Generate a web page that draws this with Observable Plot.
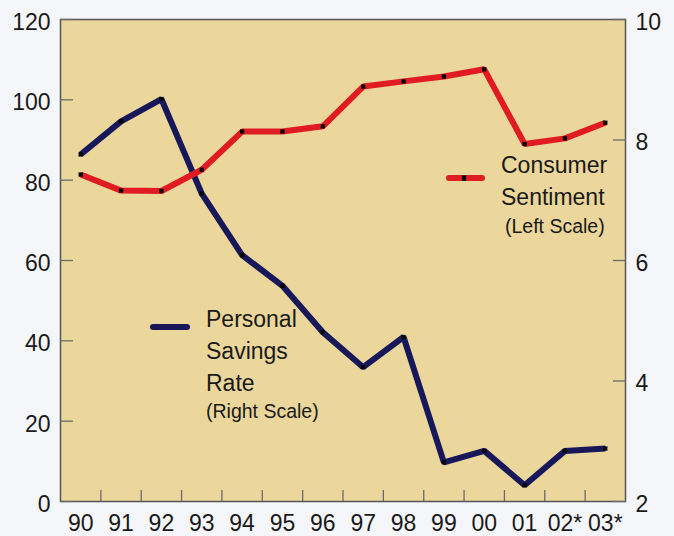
<!DOCTYPE html>
<html><head><meta charset="utf-8">
<script src="https://cdn.jsdelivr.net/npm/d3@7"></script>
<script src="https://cdn.jsdelivr.net/npm/@observablehq/plot@0.6"></script>
<style>
body{margin:0;background:#f5f6f9;}
#wrap{position:relative;width:674px;height:536px;font-family:"Liberation Sans",Arial,sans-serif;color:#1a1a1a;}
.leg{position:absolute;white-space:nowrap;}
.big{font-size:23px;line-height:32px;}
.small{font-size:19.5px;line-height:26px;}
.sw{position:absolute;height:6px;border-radius:3px;}
</style></head><body><div id="wrap"></div>
<script>
const years = ["90","91","92","93","94","95","96","97","98","99","00","01","02*","03*"];
const sentiment = [81.4, 77.4, 77.3, 82.6, 92.1, 92.1, 93.4, 103.3, 104.6, 105.8, 107.6, 89.0, 90.4, 94.3];
const savings = [7.76, 8.31, 8.68, 7.11, 6.09, 5.58, 4.81, 4.23, 4.73, 2.65, 2.84, 2.27, 2.84, 2.88];
const leftTicks = [0, 20, 40, 60, 80, 100, 120];
const rightTicks = [2, 4, 6, 8, 10];

// map right scale (2..10) onto left scale (0..120)
const toLeft = v => (v - 2) * 15;
const fromLeft = v => v / 15 + 2;

const rows = years.map((y, i) => ({i, year: y, sentiment: sentiment[i], savings: toLeft(savings[i])}));
const centers = years.map((_, i) => i);
const bounds = years.slice(1).map((_, i) => i + 0.5);

const BLUE = "#17175a", RED = "#e11b22", TICK = "#6a6a6a";

const plot = Plot.plot({
  width: 674, height: 536,
  marginLeft: 60, marginRight: 49, marginTop: 19, marginBottom: 35,
  style: {background: "transparent", fontFamily: "Liberation Sans, Arial, sans-serif", fontSize: "23px", color: "#1a1a1a", overflow: "visible"},
  x: {type: "linear", domain: [-0.5, years.length - 0.5], label: null},
  y: {domain: [0, 120], label: null},
  marks: [
    Plot.frame({fill: "#ebd69b", stroke: "none"}),
    Plot.line(rows, {x: "i", y: "savings", stroke: BLUE, strokeWidth: 6, strokeLinejoin: "miter", strokeLinecap: "butt"}),
    Plot.dot(rows, {x: "i", y: "savings", symbol: "square", r: 2.4, fill: "#000"}),
    Plot.line(rows, {x: "i", y: "sentiment", stroke: RED, strokeWidth: 6, strokeLinejoin: "miter", strokeLinecap: "butt"}),
    Plot.dot(rows, {x: "i", y: "sentiment", symbol: "square", r: 2.4, fill: "#000"}),
    Plot.frame({stroke: "#555", strokeWidth: 1.5}),
    // left axis
    Plot.axisY(leftTicks, {anchor: "left", tickSize: -13, tickFormat: () => "", stroke: TICK, strokeWidth: 1.3, label: null}),
    Plot.axisY(leftTicks, {anchor: "left", tickSize: 0, tickPadding: 10, dy: 3, fontSize: 23, label: null}),
    // right axis
    Plot.axisY(rightTicks.map(toLeft), {anchor: "right", tickSize: -13, tickFormat: () => "", stroke: TICK, strokeWidth: 1.3, label: null}),
    Plot.axisY(rightTicks.map(toLeft), {anchor: "right", tickSize: 0, tickPadding: 10, dy: 3, fontSize: 23, tickFormat: d => fromLeft(d), label: null}),
    // x axis
    Plot.axisX(bounds, {anchor: "bottom", tickSize: -11, tickFormat: () => "", stroke: TICK, strokeWidth: 1.3, label: null}),
    Plot.axisX(centers, {anchor: "bottom", tickSize: 0, tickPadding: 13, fontSize: 23, tickFormat: i => years[i], label: null})
  ]
});

const wrap = document.getElementById("wrap");
wrap.appendChild(plot);
wrap.insertAdjacentHTML("beforeend", `
  <div class="sw" style="left:150px;top:324px;width:40px;background:${BLUE}"></div>
  <div class="leg big" style="left:206px;top:303px">Personal<br>Savings<br>Rate</div>
  <div class="leg small" style="left:206px;top:398px">(Right Scale)</div>
  <div class="sw" style="left:446px;top:175px;width:39px;background:${RED}"></div>
  <div class="sw" style="left:462px;top:175px;width:4px;border-radius:0;background:#000"></div>
  <div class="leg big" style="left:501px;top:149px">Consumer<br>Sentiment</div>
  <div class="leg small" style="left:505px;top:213px">(Left Scale)</div>
`);
</script>
</body></html>
